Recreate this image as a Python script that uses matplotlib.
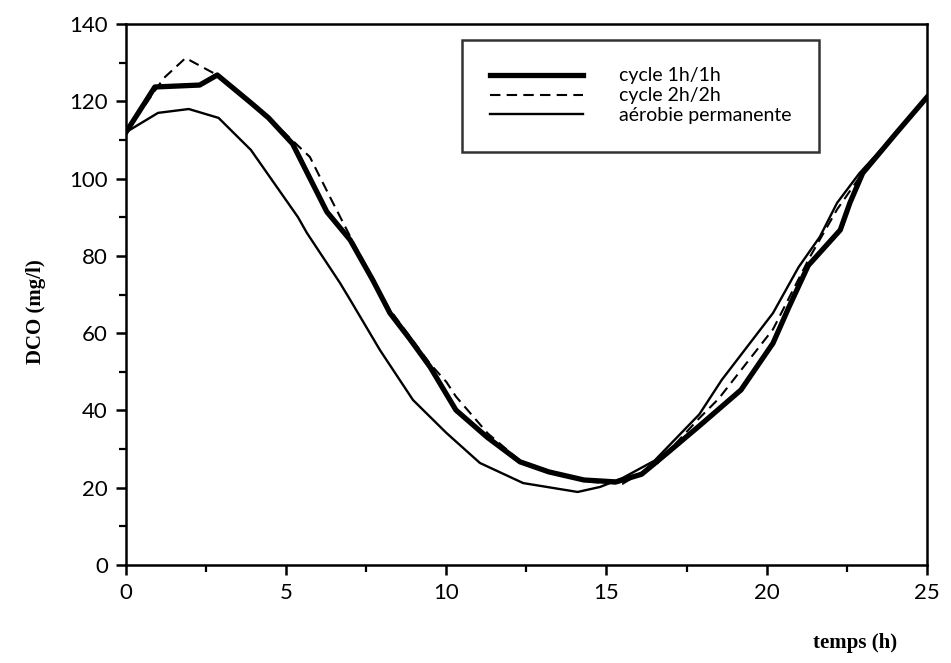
import numpy as np
import matplotlib.pyplot as plt
from matplotlib.ticker import MultipleLocator

# ==========================
# Données
# ==========================

t_cycle1 = [0, 0.9, 2.3, 2.85, 3.9, 4.45, 5.2, 6.27, 7.0, 7.7, 8.24, 8.86, 9.49,
            10.3, 11.27, 12.3, 13.2, 14.3, 15.3, 16.1, 16.9, 17.9, 19.2, 20.2,
            20.7, 21.3, 22.3, 22.6, 23.0, 24.05, 25]
dco_cycle1 = [112, 123.7, 124.2, 126.8, 119.6, 115.7, 109, 91.4, 84.1, 73.8, 65.2,
              58.5, 51.3, 40.1, 33.1, 26.7, 24.1, 22, 21.5, 23.5, 29, 36, 45.3,
              57.4, 66.8, 77.5, 86.7, 93.7, 101.4, 111.8, 121]

t_cycle2 = [0, 1.18, 1.86, 2.8, 3.9, 4.45, 5.74, 6.37, 7.0, 8.2, 9.5, 10.0, 10.3,
            11.3, 12.3, 13.5, 14.5, 15.5, 16.6, 17.9, 18.5, 20.2, 21.35, 22.2,
            23.0, 24.0, 25]
dco_cycle2 = [112, 126, 131.2, 127, 119.6, 115.7, 105.6, 95.2, 85, 66.5, 52, 47.4,
              43.6, 34, 27, 23.5, 21.5, 21, 26.4, 38, 43, 61, 79.7, 92, 101.5, 111, 121]

t_aerobie = [0, 1.0, 1.96, 2.89, 3.9, 5.37, 5.65, 6.68, 7.0, 7.93, 8.96, 10.0,
             11.05, 12.4, 14.1, 14.8, 15.5, 16.5, 17.9, 18.6, 20.2, 21.0, 21.66,
             22.2, 22.9, 24.05, 25]
dco_aerobie = [112, 117, 118, 115.7, 107.4, 90, 85.9, 73, 68.6, 55.6, 42.7, 34.2,
               26.4, 21.2, 18.9, 20.2, 22.5, 27, 39, 47.9, 65.2, 77.1, 84.9, 93.7,
               101.4, 111.8, 121]

labels = ["cycle 1h/1h", "cycle 2h/2h", "aérobie permanente"]

# ==========================
# Graphique
# ==========================

plt.rcParams["font.family"] = ["Lato", "DejaVu Sans"]

fig = plt.figure(figsize=(9.51, 6.63), dpi=100)
ax = fig.add_axes([0.1325, 0.1478, 0.842, 0.816])

ax.plot(t_cycle1, dco_cycle1, color="black", linewidth=3.8, label=labels[0])
ax.plot(t_cycle2, dco_cycle2, color="black", linewidth=1.5,
        linestyle=(0, (5, 3)), label=labels[1])
ax.plot(t_aerobie, dco_aerobie, color="black", linewidth=1.7, label=labels[2])

ax.set_xlim(0, 25)
ax.set_ylim(0, 140)
ax.xaxis.set_major_locator(MultipleLocator(5))
ax.xaxis.set_minor_locator(MultipleLocator(2.5))
ax.yaxis.set_major_locator(MultipleLocator(20))
ax.yaxis.set_minor_locator(MultipleLocator(10))

for s in ax.spines.values():
    s.set_linewidth(1.8)

ax.tick_params(which="major", direction="out", length=7, width=1.8,
               labelsize=16, pad=6)
ax.tick_params(which="minor", direction="out", length=5, width=1.6)

ax.set_ylabel("DCO (mg/l)", fontsize=15, fontweight="bold",
              family="Liberation Serif")
ax.yaxis.set_label_coords(-0.1, 0.468)
ax.set_xlabel("temps (h)", fontsize=15, fontweight="bold",
              family="Liberation Serif")
ax.xaxis.set_label_coords(0.91, -0.125)

leg = ax.legend(loc="upper left", bbox_to_anchor=(0.42, 0.97), fontsize=14,
                frameon=True, fancybox=False, edgecolor="black",
                handlelength=4.8, handletextpad=1.85, labelspacing=0.15,
                borderpad=1.4, borderaxespad=0)
leg.get_frame().set_linewidth(1.8)

plt.savefig("out.png", dpi=100)
plt.close()
